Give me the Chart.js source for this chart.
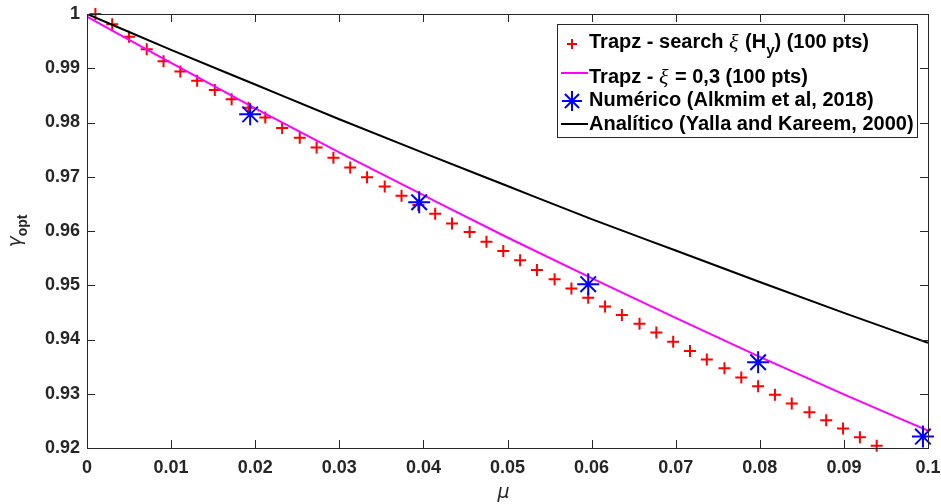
<!DOCTYPE html>
<html>
<head>
<meta charset="utf-8">
<script src="https://cdn.jsdelivr.net/npm/chart.js@4.4.1/dist/chart.umd.min.js"></script>
<style>
html,body{margin:0;padding:0;background:#fff;}
#wrap{width:941px;height:504px;}
</style>
</head>
<body>
<div id="wrap"><canvas id="chart" width="941" height="504"></canvas></div>
<script>
// ================= DATA =================
// Trapz - search xi (Hy)
const muSearch=[0.0010,0.0030,0.0050,0.0071,0.0091,0.0111,0.0131,0.0152,0.0172,0.0192,
0.0212,0.0232,0.0253,0.0273,0.0293,0.0313,0.0333,0.0354,0.0374,0.0394,
0.0414,0.0434,0.0455,0.0475,0.0495,0.0515,0.0535,0.0556,0.0576,0.0596,
0.0616,0.0636,0.0657,0.0677,0.0697,0.0717,0.0737,0.0758,0.0778,0.0798,
0.0818,0.0838,0.0859,0.0879,0.0899,0.0919,0.0939];
const gammaSearch=[1.0000,0.9981,0.9958,0.9935,0.9913,0.9894,0.9877,0.9860,0.9843,0.9827,
0.9809,0.9790,0.9772,0.9754,0.9735,0.9717,0.9699,0.9682,0.9665,0.9648,
0.9632,0.9614,0.9598,0.9580,0.9563,0.9546,0.9528,0.9511,0.9494,0.9477,
0.9461,0.9445,0.9429,0.9413,0.9396,0.9379,0.9363,0.9347,0.9330,0.9314,
0.9298,0.9282,0.9266,0.9251,0.9236,0.9220,0.9204];

// Trapz - xi = 0,3
const muFixed=[0,0.01,0.02,0.03,0.04,0.05,0.06,0.07,0.08,0.09,0.1];
const gammaFixed=[0.9995,0.9910,0.9826,0.9745,0.9666,0.9588,0.9513,0.9440,0.9368,0.9299,0.9232];

// Numerico (Alkmim et al, 2018)
const muNum=[0.0194,0.0395,0.0596,0.0798,0.0994];
const gammaNum=[0.9815,0.9653,0.9502,0.9358,0.9221];

// Analitico (Yalla and Kareem, 2000)
const muAna=[0,0.01,0.02,0.03,0.04,0.05,0.06,0.07,0.08,0.09,0.1];
const gammaAna=[1.0000,0.9934,0.9870,0.9806,0.9744,0.9683,0.9622,0.9564,0.9506,0.9449,0.9394];

const xRange=[0,0.1];
const yRange=[0.92,1];
const tickStep=0.01;

const labels=[
"Trapz - search ξ (H_y) (100 pts)",
"Trapz - ξ = 0,3 (100 pts)",
"Numérico (Alkmim et al, 2018)",
"Analítico (Yalla and Kareem, 2000)"
];

const AXIS="#262626";
const SANS="'Liberation Sans', Arial, sans-serif";

function pts(xs,ys){return xs.map((x,i)=>({x:x,y:ys[i]}));}

// ================= MARKERS =================
function drawMarker(ctx,style,x,y,r,color,w){
ctx.save();
ctx.strokeStyle=color;ctx.lineWidth=w;
ctx.beginPath();
ctx.moveTo(x-r,y);ctx.lineTo(x+r,y);
ctx.moveTo(x,y-r);ctx.lineTo(x,y+r);
if(style==="star"){
let d=r*0.7071;
ctx.moveTo(x-d,y-d);ctx.lineTo(x+d,y+d);
ctx.moveTo(x-d,y+d);ctx.lineTo(x+d,y-d);
}
ctx.stroke();
ctx.restore();
}

// draws label text with xi in italic serif and _y as subscript
function drawRich(ctx,text,x,y){
let buf="";
let flush=()=>{
if(!buf) return;
ctx.font="bold 20px "+SANS;
ctx.fillText(buf,x,y);
x+=ctx.measureText(buf).width;
buf="";
};
for(let i=0;i<text.length;i++){
let c=text[i];
if(c==="ξ"){
flush();
ctx.font="italic 22px 'Liberation Serif', serif";
ctx.fillText(c,x,y+1);
x+=ctx.measureText(c).width+1;
}else if(c==="_"){
flush();
let s=text[++i];
ctx.font="bold 15px "+SANS;
ctx.fillText(s,x,y+9);
x+=ctx.measureText(s).width;
}else buf+=c;
}
flush();
}

// ================= BOX, TICKS, LEGEND, TITLES =================
const decor={
id:"decor",
afterDraw(chart){
const ctx=chart.ctx;
const a=chart.chartArea;
const xs=chart.scales.x, ys=chart.scales.y;
const tl=8;
ctx.save();
ctx.strokeStyle=AXIS;ctx.lineWidth=1;
ctx.beginPath();
xs.ticks.forEach(t=>{
let px=Math.round(xs.getPixelForValue(t.value))+0.5;
ctx.moveTo(px,a.bottom);ctx.lineTo(px,a.bottom-tl);
ctx.moveTo(px,a.top);ctx.lineTo(px,a.top+tl);
});
ys.ticks.forEach(t=>{
let py=Math.round(ys.getPixelForValue(t.value))+0.5;
ctx.moveTo(a.left,py);ctx.lineTo(a.left+tl,py);
ctx.moveTo(a.right,py);ctx.lineTo(a.right-tl,py);
});
ctx.stroke();
ctx.strokeRect(Math.round(a.left)+0.5,Math.round(a.top)+0.5,Math.round(a.right-a.left),Math.round(a.bottom-a.top));

// axis titles
ctx.fillStyle=AXIS;
ctx.textAlign="center";ctx.textBaseline="middle";
ctx.font="italic 19px 'DejaVu Sans', sans-serif";
ctx.fillText("μ",(a.left+a.right)/2-4,493);

ctx.translate(21,(a.top+a.bottom)/2);
ctx.rotate(-Math.PI/2);
ctx.textAlign="left";ctx.textBaseline="alphabetic";
ctx.font="italic 19px 'DejaVu Sans', sans-serif";
let gw=ctx.measureText("γ").width;
ctx.font="bold 14px "+SANS;
let ow=ctx.measureText("opt").width;
let sx=-(gw+ow)/2;
ctx.font="italic 19px 'DejaVu Sans', sans-serif";
ctx.fillText("γ",sx,0);
ctx.font="bold 14px "+SANS;
ctx.fillText("opt",sx+gw,6);
ctx.restore();

// legend
const L={x:557,y:24,w:360,h:113};
ctx.save();
ctx.fillStyle="#fff";
ctx.fillRect(L.x,L.y,L.w,L.h);
ctx.strokeStyle=AXIS;ctx.lineWidth=1;
ctx.strokeRect(L.x+0.5,L.y+0.5,L.w,L.h);
const rows=[{m:44,t:42},{m:73,t:77},{m:101,t:100},{m:124,t:124}];
chart.data.datasets.forEach((ds,i)=>{
let r=rows[i];
if(ds.showLine){
ctx.strokeStyle=ds.borderColor;ctx.lineWidth=ds.borderWidth;
ctx.beginPath();ctx.moveTo(561,r.m);ctx.lineTo(588,r.m);ctx.stroke();
}else{
drawMarker(ctx,ds.pointStyle==="star"?"star":"cross",572,r.m,ds.pointStyle==="star"?10:5,ds.borderColor,ds.borderWidth);
}
ctx.fillStyle="#000";
ctx.textAlign="left";ctx.textBaseline="middle";
drawRich(ctx,ds.label,589,r.t);
});
ctx.restore();
}
};

// ================= CHART =================
const fmt=v=>String(+(+v).toFixed(2));

new Chart(document.getElementById("chart").getContext("2d"),{
type:"scatter",
data:{
datasets:[
{label:labels[0],data:pts(muSearch,gammaSearch),showLine:false,pointStyle:"cross",
pointRadius:6,pointHoverRadius:6,borderColor:"#ff0000",backgroundColor:"#ff0000",borderWidth:2,order:4,clip:false},
{label:labels[1],data:pts(muFixed,gammaFixed),showLine:true,pointRadius:0,
borderColor:"#ff00ff",backgroundColor:"#ff00ff",borderWidth:2,cubicInterpolationMode:"monotone",order:3},
{label:labels[2],data:pts(muNum,gammaNum),showLine:false,pointStyle:"star",
pointRadius:11,pointHoverRadius:11,borderColor:"#0000ff",backgroundColor:"#0000ff",borderWidth:2,order:2,clip:false},
{label:labels[3],data:pts(muAna,gammaAna),showLine:true,pointRadius:0,
borderColor:"#000000",backgroundColor:"#000000",borderWidth:2,cubicInterpolationMode:"monotone",order:1}
]
},
options:{
responsive:false,
animation:false,
devicePixelRatio:1,
layout:{padding:{top:14,right:11,left:0,bottom:0}},
plugins:{legend:{display:false},tooltip:{enabled:false}},
scales:{
x:{type:"linear",min:xRange[0],max:xRange[1],
grid:{display:false,drawTicks:false},border:{display:false},
ticks:{stepSize:tickStep,padding:9,color:AXIS,maxRotation:0,autoSkip:false,
font:{family:SANS,size:18,weight:"bold"},callback:fmt},
afterFit(s){s.height=56;s.paddingLeft=0;s.paddingRight=0;}
},
y:{type:"linear",min:yRange[0],max:yRange[1],
grid:{display:false,drawTicks:false},border:{display:false},
ticks:{stepSize:tickStep,padding:7,color:AXIS,autoSkip:false,
font:{family:SANS,size:18,weight:"bold"},callback:fmt},
afterFit(s){s.width=87;s.paddingTop=0;s.paddingBottom=0;}
}
}
},
plugins:[decor]
});
</script>
</body>
</html>
